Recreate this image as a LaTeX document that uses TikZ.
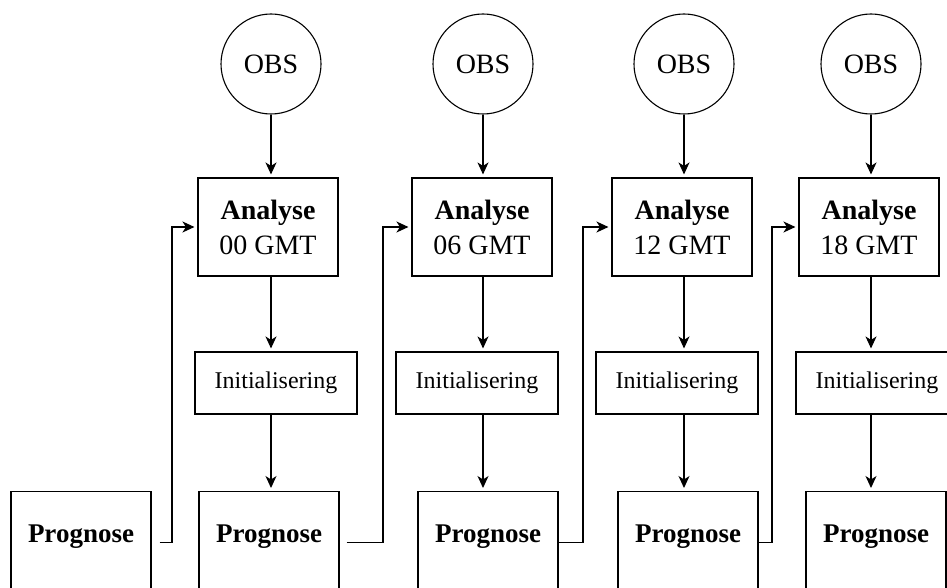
\documentclass[tikz,border=0pt]{standalone}
\usepackage{fontspec}
\setmainfont{Liberation Serif}
\usetikzlibrary{arrows.meta}

\begin{document}
\begin{tikzpicture}[x=1pt,y=-1pt,line width=1.1pt,
    font=\fontsize{28}{35}\selectfont,
    arr/.style={-{Stealth[length=12pt,width=11pt,inset=3.5pt]},shorten >=3pt},
    obs/.style={circle,draw,minimum size=100pt,inner sep=0pt},
    analyse/.style={draw,minimum width=140pt,minimum height=98pt,inner sep=0pt,align=center},
    init/.style={draw,minimum width=162pt,minimum height=62pt,inner sep=0pt,font=\fontsize{24}{28}\selectfont},
    prog/.style={draw,anchor=north,minimum width=140pt,inner sep=0pt,text height=51pt,text depth=70pt,font=\fontsize{27}{35}\selectfont\bfseries}]
   \useasboundingbox (0,0) rectangle (947,588);
   \clip (0,0) rectangle (947,588);
   % observations
   \node[obs] (o1) at (271,64) {OBS};
   \node[obs] (o2) at (483,64) {OBS};
   \node[obs] (o3) at (684,64) {OBS};
   \node[obs] (o4) at (871,64) {OBS};
   % analyses
   \node[analyse] (a1) at (268,227) {\textbf{Analyse}\\00 GMT};
   \node[analyse] (a2) at (482,227) {\textbf{Analyse}\\06 GMT};
   \node[analyse] (a3) at (682,227) {\textbf{Analyse}\\12 GMT};
   \node[analyse] (a4) at (869,227) {\textbf{Analyse}\\18 GMT};
   % initialisation
   \node[init] (i1) at (276,383) {Initialisering};
   \node[init] (i2) at (477,383) {Initialisering};
   \node[init] (i3) at (677,383) {Initialisering};
   \node[init] (i4) at (877,383) {Initialisering};
   % forecasts
   \node[prog] (p0) at (81,491) {Prognose};
   \node[prog] (p1) at (269,491) {Prognose};
   \node[prog] (p2) at (488,491) {Prognose};
   \node[prog] (p3) at (688,491) {Prognose};
   \node[prog] (p4) at (876,491) {Prognose};
   % turning points of the forecast feedback
   \coordinate (k1) at (172,0);
   \coordinate (k2) at (383,0);
   \coordinate (k3) at (583,0);
   \coordinate (k4) at (772,0);
   \foreach \i in {1,...,4} {
     \draw[arr] (o\i.south) -- (o\i.south |- a\i.north);
     \draw[arr] (o\i |- a\i.south) -- (o\i |- i\i.north);
     \draw[arr] (o\i |- i\i.south) -- (o\i |- p\i.north);
   }
   \draw[arr] ([xshift=8pt]p0.base east) -| (k1 |- a1.west) -- (a1.west);
   \draw[arr] ([xshift=7pt]p1.base east) -| (k2 |- a2.west) -- (a2.west);
   \draw[arr] (p2.base east) -| (k3 |- a3.west) -- (a3.west);
   \draw[arr] (p3.base east) -| (k4 |- a4.west) -- (a4.west);
\end{tikzpicture}
\end{document}
